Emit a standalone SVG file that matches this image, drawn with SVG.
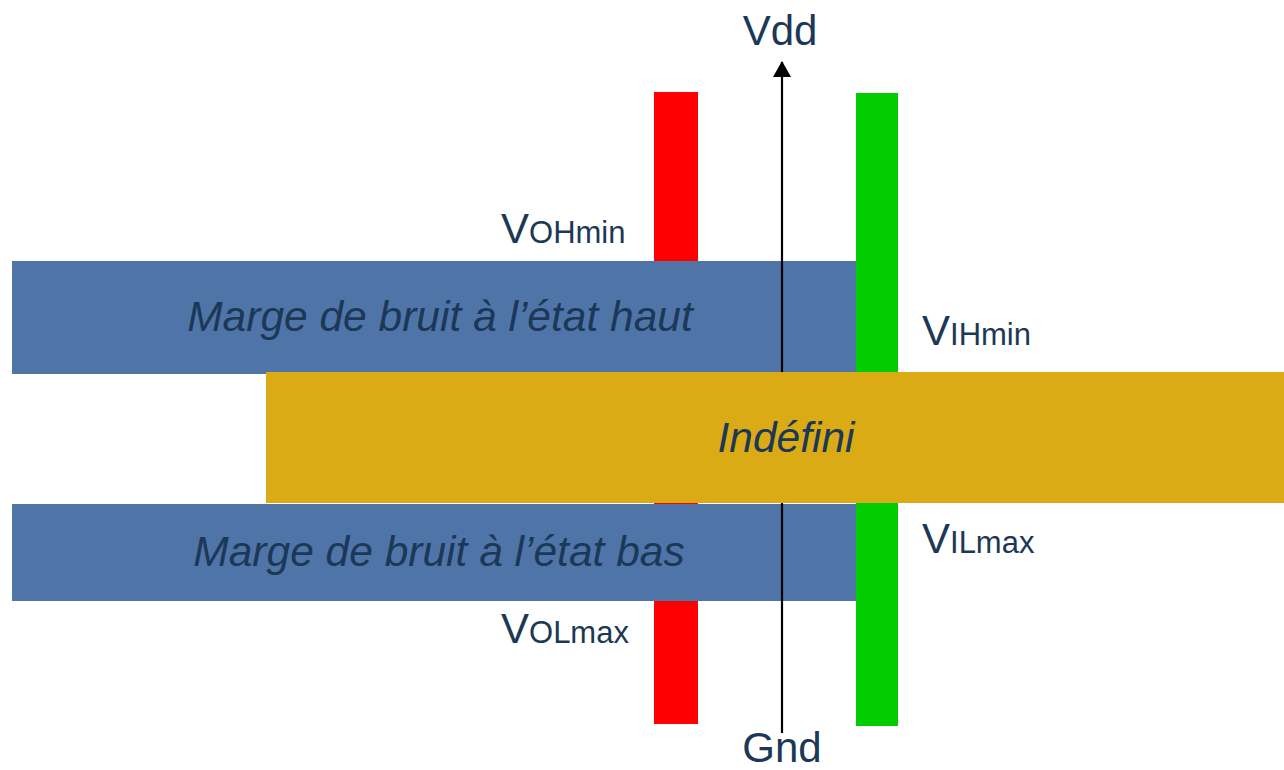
<svg xmlns="http://www.w3.org/2000/svg" width="1284" height="770" viewBox="0 0 1284 770">
<style>
.t{font-family:"Liberation Sans",Arial,sans-serif;fill:#1c3857}
.big{font-size:42px}
.sub{font-size:31px}
.it{font-family:"Liberation Sans",Arial,sans-serif;font-style:italic;font-size:42.5px;fill:#1c3857;text-anchor:middle}
</style>
<defs>
<marker id="arr" viewBox="0 0 16 18" refX="15" refY="9" markerWidth="16" markerHeight="18" markerUnits="userSpaceOnUse" orient="auto">
<path d="M0,0 L16,9 L0,18 z" fill="#000"/>
</marker>
</defs>
<rect width="1284" height="770" fill="#fff"/>
<g id="red-bar"><rect x="654" y="92" width="44" height="632" fill="#ff0000"/></g>
<g id="green-bar"><rect x="856" y="93" width="42" height="633" fill="#00cc00"/></g>
<g id="high-margin"><rect x="12" y="261" width="844" height="113" fill="#4f74a8"/></g>
<g id="low-margin"><rect x="12" y="504" width="844" height="97" fill="#4f74a8"/></g>
<g id="connectors"><line x1="782" y1="733" x2="782" y2="62" stroke="#000" stroke-width="2.2" marker-end="url(#arr)"/></g>
<g id="undefined"><rect x="266" y="372" width="1018" height="131" fill="#daab15"/></g>
<g id="labels">
<text class="it" x="440" y="331">Marge de bruit à l’état haut</text>
<text class="it" x="786" y="452">Indéfini</text>
<text class="it" x="439" y="566">Marge de bruit à l’état bas</text>
<text class="t big" x="780" y="45" text-anchor="middle">Vdd</text>
<text class="t big" x="782" y="762" text-anchor="middle">Gnd</text>
<text class="t" x="501" y="243"><tspan class="big">V</tspan><tspan class="sub">OHmin</tspan></text>
<text class="t" x="922" y="345"><tspan class="big">V</tspan><tspan class="sub">IHmin</tspan></text>
<text class="t" x="922" y="553"><tspan class="big">V</tspan><tspan class="sub">ILmax</tspan></text>
<text class="t" x="501" y="643"><tspan class="big">V</tspan><tspan class="sub">OLmax</tspan></text>
</g>
</svg>
